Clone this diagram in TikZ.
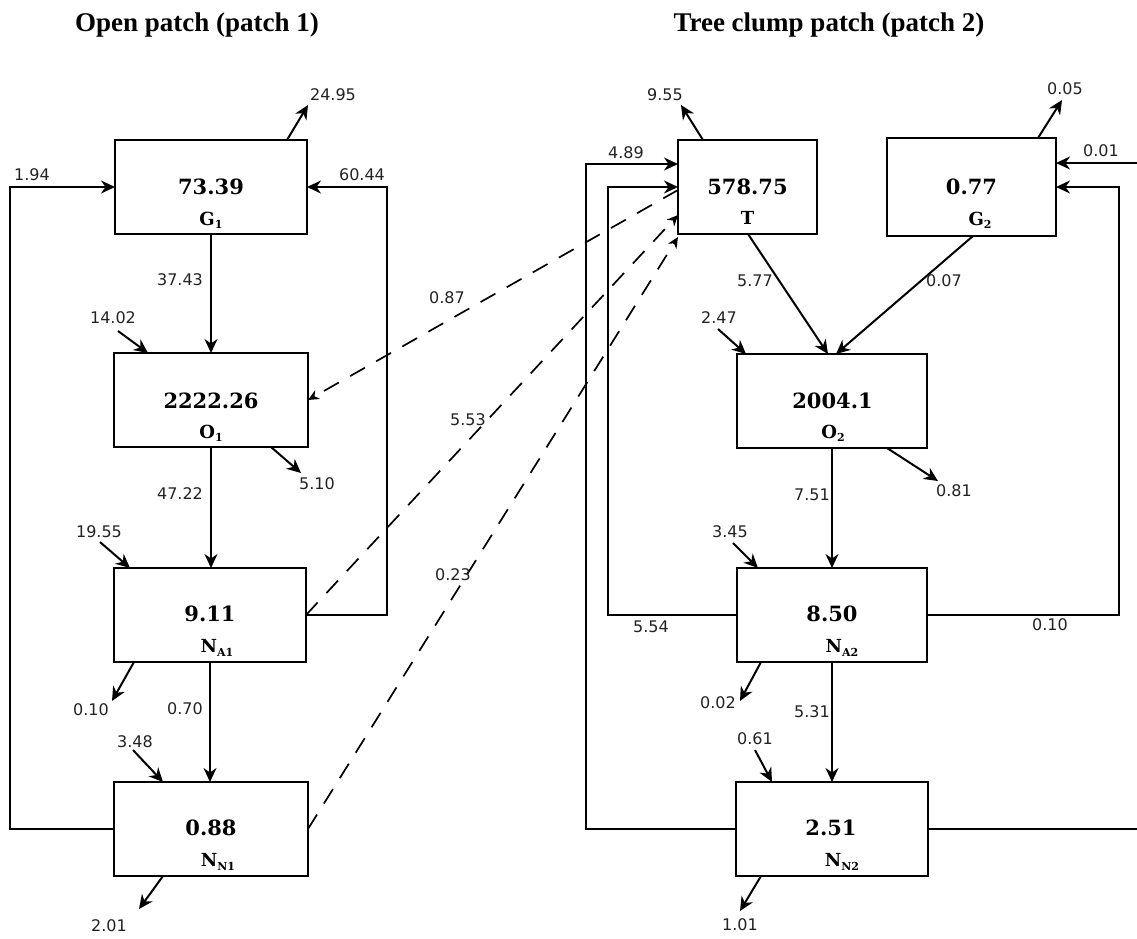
\documentclass[tikz,border=0pt]{standalone}
\usepackage{fontspec}
\usetikzlibrary{arrows.meta}
\newfontfamily\lblfont{DejaVu Sans}
\newfontfamily\boxfont{DejaVu Serif}
\newfontfamily\ttlfont{Liberation Serif}
\definecolor{ink}{HTML}{222222}
\newcommand{\sbs}[1]{\raisebox{-0.18em}{\fontsize{11}{11}\selectfont #1}}
\tikzset{
  every node/.style={inner sep=0pt, outer sep=0pt},
  box/.style={draw, line width=2pt, inner sep=0pt},
  num/.style={font=\boxfont\bfseries\fontsize{21}{24}\selectfont},
  sym/.style={font=\boxfont\bfseries\fontsize{18}{20}\selectfont},
  lbl/.style={font=\lblfont\fontsize{16}{18}\selectfont, text=ink},
  ttl/.style={font=\ttlfont\bfseries\fontsize{27}{30}\selectfont, anchor=base},
  flow/.style={line width=2pt, -{Stealth[length=14pt,width=13pt,inset=4.5pt]}},
  link/.style={line width=2pt},
  dflow/.style={line width=1.7pt, dash pattern=on 17pt off 13pt, -{Stealth[length=11pt,width=10pt,inset=3.5pt]}}
}
\begin{document}
\begin{tikzpicture}[x=1pt,y=-1pt]
\useasboundingbox (0,0) rectangle (1137,938);
% titles
\node[ttl] (title1) at (197,31) {Open patch (patch 1)};
\node[ttl] (title2) at (829,31) {Tree clump patch (patch 2)};
% boxes patch 1
\node[box, minimum width=192pt, minimum height=94pt] (G1) at (211,187) {};
\node[box, minimum width=194pt, minimum height=94pt] (O1) at (211,400) {};
\node[box, minimum width=192pt, minimum height=94pt] (NA1) at (210,615) {};
\node[box, minimum width=194pt, minimum height=94pt] (NN1) at (211,829) {};
% boxes patch 2
\node[box, minimum width=139pt, minimum height=94pt] (T) at (747.5,187) {};
\node[box, minimum width=169pt, minimum height=98pt] (G2) at (971.5,187) {};
\node[box, minimum width=190pt, minimum height=94pt] (O2) at (832,401) {};
\node[box, minimum width=190pt, minimum height=94pt] (NA2) at (832,615) {};
\node[box, minimum width=192pt, minimum height=94pt] (NN2) at (832,829) {};
% box texts
\node[num] (G1n) at (211,187) {73.39};
\node[sym] (G1s) at (211,220) {G\sbs{1}};
\node[num] (O1n) at (211,401) {2222.26};
\node[sym] (O1s) at (211,433) {O\sbs{1}};
\node[num] (NA1n) at (210,614) {9.11};
\node[sym] (NA1s) at (217,648) {N\sbs{A1}};
\node[num] (NN1n) at (211,828) {0.88};
\node[sym] (NN1s) at (218,862) {N\sbs{N1}};
\node[num] (Tn) at (747.5,187) {578.75};
\node[sym] (Ts) at (747.5,218) {T};
\node[num] (G2n) at (971.5,187) {0.77};
\node[sym] (G2s) at (980,220) {G\sbs{2}};
\node[num] (O2n) at (832.5,401) {2004.1};
\node[sym] (O2s) at (833,433) {O\sbs{2}};
\node[num] (NA2n) at (832,614) {8.50};
\node[sym] (NA2s) at (842,648) {N\sbs{A2}};
\node[num] (NN2n) at (831,828) {2.51};
\node[sym] (NN2s) at (842,862) {N\sbs{N2}};
% free-end coordinates
\coordinate (e2495) at (308,105);
\coordinate (s1402) at (118,331);
\coordinate (e510) at (301,473);
\coordinate (s1955) at (100,542);
\coordinate (e010a) at (112,701);
\coordinate (s348) at (133,750);
\coordinate (e201) at (139,909);
\coordinate (e955) at (681,105);
\coordinate (s247) at (718,329);
\coordinate (e081) at (938,481);
\coordinate (s345) at (733,543);
\coordinate (s001) at (1137,163);
\coordinate (e005) at (1062,100);
\coordinate (e002) at (740,701);
\coordinate (s061) at (755,750);
\coordinate (e101) at (740,911);
\coordinate (eNN2) at (1137,829);
\coordinate (xl1) at (10,500);
\coordinate (xr1) at (387,500);
\coordinate (xl2) at (586,500);
\coordinate (xl3) at (608,500);
\coordinate (xr2) at (1119,500);
\coordinate (Tin489) at ([yshift=23pt]T.west);
\coordinate (Tinda) at ([yshift=-28pt]T.west);
\coordinate (Tindn) at ([yshift=-50pt]T.west);
\coordinate (Tout) at ([yshift=-3pt]T.west);
% patch 1 connectors
\draw[flow] ([xshift=76pt]G1.north) -- (e2495);
\draw[flow] (NN1.west) -- (NN1.west -| xl1) -- (xl1 |- G1.west) -- (G1.west);
\draw[flow] (NA1.east) -- (NA1.east -| xr1) -- (xr1 |- G1.east) -- (G1.east);
\draw[flow] (G1.south) -- (O1.north);
\draw[flow] (s1402) -- ([xshift=-63pt]O1.north);
\draw[flow] (O1.south) -- (O1.south |- NA1.north);
\draw[flow] ([xshift=60pt]O1.south) -- (e510);
\draw[flow] (s1955) -- ([xshift=-80pt]NA1.north);
\draw[flow] ([xshift=-76pt]NA1.south) -- (e010a);
\draw[flow] (NA1.south) -- (NA1.south |- NN1.north);
\draw[flow] (s348) -- ([xshift=-48pt]NN1.north);
\draw[flow] ([xshift=-48pt]NN1.south) -- (e201);
% dashed connectors
\draw[dflow] (Tout) -- (O1.east);
\draw[dflow] (NA1.east) -- (Tinda);
\draw[dflow] (NN1.east) -- (Tindn);
% patch 2 connectors
\draw[flow] ([xshift=-44.5pt]T.north) -- (e955);
\draw[flow] (NN2.west) -- (NN2.west -| xl2) -- (xl2 |- Tin489) -- (Tin489);
\draw[flow] (NA2.west) -- (NA2.west -| xl3) -- (xl3 |- T.west) -- (T.west);
\draw[flow] ([xshift=0.5pt]T.south) -- ([xshift=-4pt]O2.north);
\draw[flow] ([xshift=1.5pt]G2.south) -- ([xshift=4pt]O2.north);
\draw[flow] (s247) -- ([xshift=-86pt]O2.north);
\draw[flow] ([xshift=55pt]O2.south) -- (e081);
\draw[flow] (O2.south) -- (O2.south |- NA2.north);
\draw[flow] (s345) -- ([xshift=-74pt]NA2.north);
\draw[flow] (NA2.east) -- (NA2.east -| xr2) -- (xr2 |- G2.east) -- (G2.east);
\draw[flow] (s001) -- ([yshift=24pt]G2.east);
\draw[flow] ([xshift=66.5pt]G2.north) -- (e005);
\draw[flow] ([xshift=-71pt]NA2.south) -- (e002);
\draw[flow] (NA2.south) -- (NA2.south |- NN2.north);
\draw[flow] (s061) -- ([xshift=-60pt]NN2.north);
\draw[flow] ([xshift=-71pt]NN2.south) -- (e101);
\draw[link] (NN2.east) -- (eNN2);
% flow labels
\node[lbl] (l2495) at (333,95) {24.95};
\node[lbl] (l194) at (32,175) {1.94};
\node[lbl] (l6044) at (362,175) {60.44};
\node[lbl] (l3743) at (180,280) {37.43};
\node[lbl] (l1402) at (113,318) {14.02};
\node[lbl] (l4722) at (180,494) {47.22};
\node[lbl] (l510) at (317,484) {5.10};
\node[lbl] (l1955) at (99,532) {19.55};
\node[lbl] (l010a) at (91,710) {0.10};
\node[lbl] (l070) at (185,709) {0.70};
\node[lbl] (l348) at (135,742) {3.48};
\node[lbl] (l201) at (109,926) {2.01};
\node[lbl] (l955) at (665,95) {9.55};
\node[lbl] (l489) at (626,153) {4.89};
\node[lbl] (l554) at (651,627) {5.54};
\node[lbl] (l087) at (447,298) {0.87};
\node[lbl] (l553) at (468,420) {5.53};
\node[lbl] (l023) at (453,575) {0.23};
\node[lbl] (l577) at (755,281) {5.77};
\node[lbl] (l007) at (944,281) {0.07};
\node[lbl] (l247) at (719,318) {2.47};
\node[lbl] (l081) at (954,491) {0.81};
\node[lbl] (l751) at (812,495) {7.51};
\node[lbl] (l345) at (730,532) {3.45};
\node[lbl] (l010b) at (1050,625) {0.10};
\node[lbl] (l001) at (1101,151) {0.01};
\node[lbl] (l005) at (1065,89) {0.05};
\node[lbl] (l002) at (718,703) {0.02};
\node[lbl] (l531) at (812,712) {5.31};
\node[lbl] (l061) at (755,739) {0.61};
\node[lbl] (l101) at (740,925) {1.01};
\end{tikzpicture}
\end{document}
